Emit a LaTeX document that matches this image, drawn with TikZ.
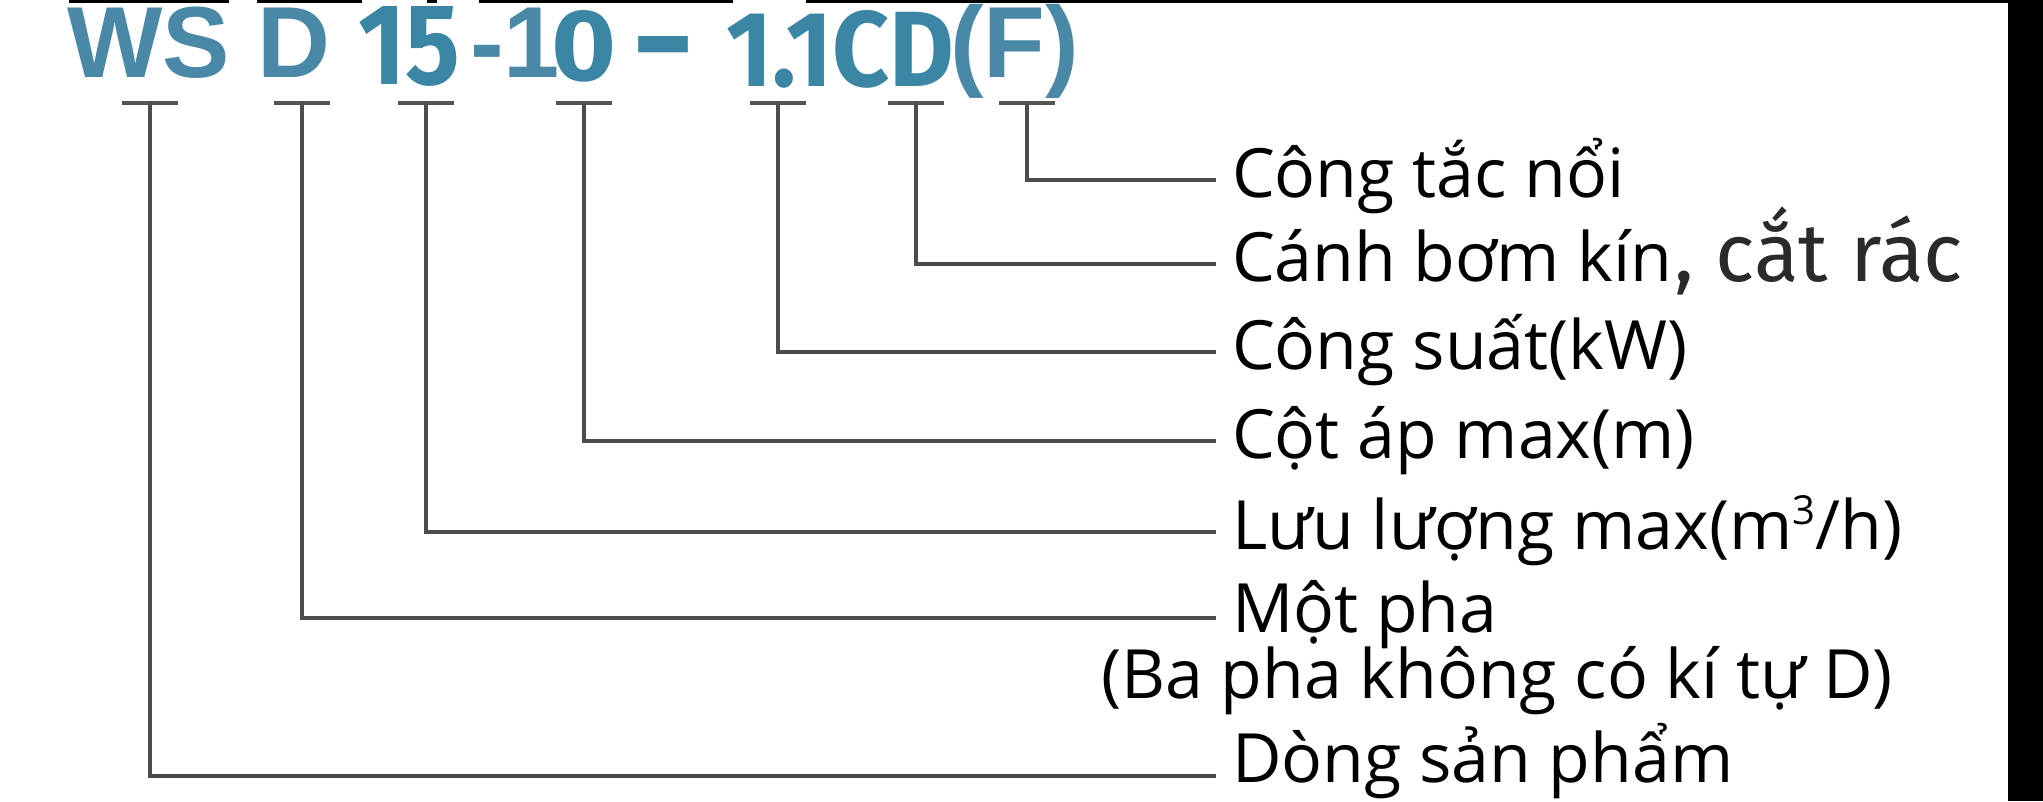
\documentclass[tikz,border=0pt]{standalone}
\usepackage{fontspec}
\usepackage{graphicx}
\setmainfont{Open Sans}
\newfontfamily\titlefont{Liberation Sans}
\newfontfamily\handfont{Fira Sans}
\definecolor{tblue}{HTML}{4A88A8}
\definecolor{hblue}{HTML}{3B86A4}
\definecolor{lgray}{HTML}{555555}
\definecolor{hink}{HTML}{2A2A2A}
\newcommand{\supthree}{\raisebox{0.36em}{\fontsize{40}{40}\selectfont 3}}
\tikzset{
  printed/.style={inner sep=0pt, outer sep=0pt, anchor=base west, text=tblue,
    font=\titlefont\bfseries\fontsize{101}{101}\selectfont},
  hand/.style={inner sep=0pt, outer sep=0pt, anchor=base west, text=hblue,
    font=\handfont\bfseries},
  lab/.style={inner sep=0pt, outer sep=0pt, anchor=base west, text=black,
    font=\fontsize{68}{72}\selectfont},
  tickbar/.style={draw=lgray, line width=4.5pt},
  stem/.style={draw=lgray!90!black, line width=3.5pt},
}
\begin{document}
\begin{tikzpicture}[x=1pt,y=-1pt]
\useasboundingbox (0,0) rectangle (2043,801);
\fill[white] (0,0) rectangle (2043,801);
% edge artefacts of the screenshot
\fill[black] (2008,0) rectangle (2043,801);
\foreach \a/\b in {69/229,257/362,427/437,479/733,806/2008}
  \fill[black] (\a,0) rectangle (\b,2.5);

% model code
\node[printed] (ws) at (67,77) {WS};
\node[printed] (d) at (257,77) {D};
\node[hand] (n15) at (358,84) {\resizebox{102pt}{78pt}{15}};
\node[printed] (m1) at (470,77) {-1};
\node[hand] (n0) at (551,80) {\resizebox{65pt}{70pt}{0}};
\node[hand] (dash) at (636,86) {\resizebox{54pt}{50pt}{–}};
\node[hand] (n11) at (726,86) {\resizebox{228pt}{76pt}{1.1CD}};
\node[printed] (f) at (950,77) {(F)};

% tick marks under the code
\foreach \n/\x in {t1/150,t2/302,t3/426,t4/584,t5/778,t6/916,t7/1027}{
  \coordinate (\n) at (\x,103);
  \draw[tickbar] ([xshift=-28pt]\n) -- ([xshift=28pt]\n);
}

% labels
\node[lab] (l7) at (1232,197) {Công tắc nổi};
\node[lab] (l6) at (1232,281) {Cánh bơm kín};
\node[inner sep=0pt, outer sep=0pt, anchor=base west, text=hink,
  font=\handfont\fontsize{82}{82}\selectfont] (hw) at ([xshift=2pt]l6.base east) {, cắt rác};
\node[lab] (l5) at (1232,369) {Công suất(kW)};
\node[lab] (l4) at (1232,458) {Cột áp max(m)};
\node[lab] (l3) at (1232,549) {Lưu lượng max(m\supthree/h)};
\node[lab] (l2) at (1232,632) {Một pha};
\node[lab] (l2b) at (1101,698) {(Ba pha không có kí tự D)};
\node[lab] (l1) at (1232,782) {Dòng sản phẩm};

% connectors
\foreach \t/\y in {t7/180,t6/264,t5/352,t4/441,t3/532,t2/618,t1/776}{
  \coordinate (c\t) at (1216,\y);
}
\draw[stem] (t7) |- (ct7);
\draw[stem] (t6) |- (ct6);
\draw[stem] (t5) |- (ct5);
\draw[stem] (t4) |- (ct4);
\draw[stem] (t3) |- (ct3);
\draw[stem] (t2) |- (ct2);
\draw[stem] (t1) |- (ct1);
\end{tikzpicture}
\end{document}
